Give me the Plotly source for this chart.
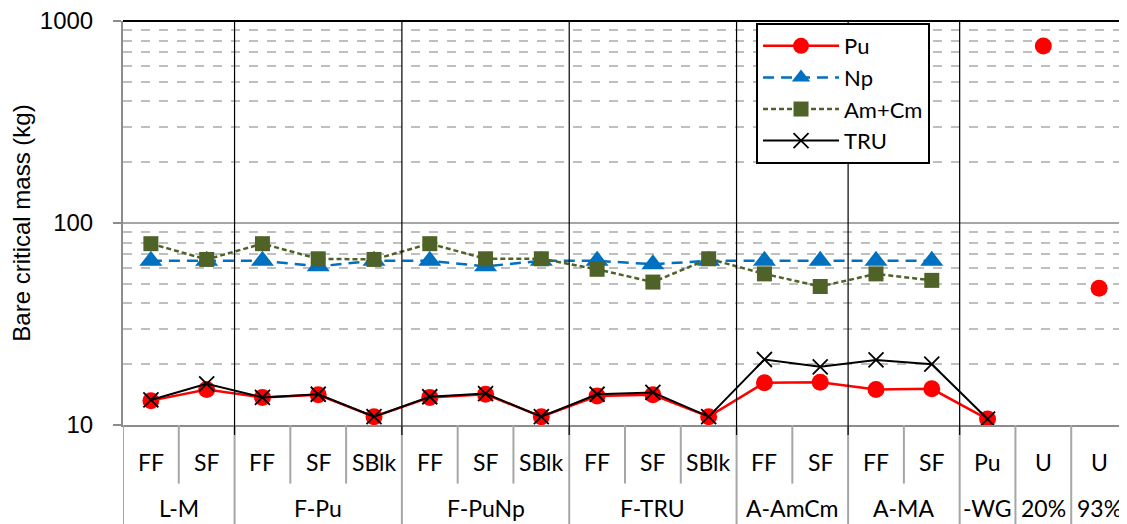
import plotly.graph_objects as go

# ---- data ----
groups = ["L-M", "L-M", "F-Pu", "F-Pu", "F-Pu", "F-PuNp", "F-PuNp", "F-PuNp",
          "F-TRU", "F-TRU", "F-TRU", "A-AmCm", "A-AmCm", "A-MA", "A-MA", "-WG", "20%", "93%"]
subcats = ["FF", "SF", "FF", "SF", "SBlk", "FF", "SF", "SBlk", "FF", "SF", "SBlk",
           "FF", "SF", "FF", "SF", "Pu", "U", "U"]

pu = [13.2, 15.0, 13.7, 14.1, 11.0, 13.7, 14.2, 11.0, 13.9, 14.1, 11.0, 16.2, 16.3, 15.0, 15.1, 10.7]
np_ = [65, 65, 65, 61, 65, 65, 61, 65, 65, 62.5, 65, 65, 65, 65, 65]
amcm = [79, 66, 79, 66.5, 66, 79, 66.5, 66.5, 59, 51, 66.5, 56, 48.5, 56, 52]
tru = [13.3, 16.0, 13.7, 14.2, 11.0, 13.8, 14.3, 11.0, 14.2, 14.5, 11.0, 21.1, 19.4, 21.0, 20.0, 10.7]
u_vals = [752, 47.5]
u_idx = [16, 17]

idx = list(range(len(subcats)))

LBL_FONT = "Lato, 'Open Sans', sans-serif"
AX_FONT = "'Liberation Sans', Arial, sans-serif"

fig = go.Figure()
fig.add_trace(go.Scatter(x=idx[:len(pu)], y=pu, name="Pu", mode="lines+markers",
                         line=dict(color="#ff0000", width=2.5),
                         marker=dict(symbol="circle", size=17, color="#ff0000")))
fig.add_trace(go.Scatter(x=idx[:len(np_)], y=np_, name="Np", mode="lines+markers",
                         line=dict(color="#0070c0", width=2.5, dash="11px,7px"),
                         marker=dict(symbol="triangle-up", size=20, color="#0070c0")))
fig.add_trace(go.Scatter(x=idx[:len(amcm)], y=amcm, name="Am+Cm", mode="lines+markers",
                         line=dict(color="#4f6228", width=2.5, dash="5px,3px"),
                         marker=dict(symbol="square", size=15, color="#4f6228")))
fig.add_trace(go.Scatter(x=idx[:len(tru)], y=tru, name="TRU", mode="lines+markers",
                         line=dict(color="#000000", width=2),
                         marker=dict(symbol="x-thin", size=15, color="#000000",
                                     line=dict(color="#000000", width=1.8))))
fig.add_trace(go.Scatter(x=u_idx, y=u_vals, name="U", mode="markers", showlegend=False,
                         marker=dict(symbol="circle", size=17, color="#ff0000")))

# ---- separators & labels ----
shapes = []
annotations = []
n = len(subcats)
runs = []
start = 0
for i in range(1, n + 1):
    if i == n or groups[i] != groups[start]:
        runs.append((start, i - 1, groups[start]))
        start = i

GRAY = "#a6a6a6"
ROW1 = -0.092
ROW2 = -0.205
SUB_BOTTOM = -0.145
BOTTOM = -0.26

shapes.append(dict(type="line", xref="x", yref="paper", x0=-0.5, x1=-0.5,
                   y0=0, y1=BOTTOM, line=dict(color=GRAY, width=2), layer="above"))
for k, (a, b, g) in enumerate(runs):
    right = b + 0.5
    if k < len(runs) - 1:
        shapes.append(dict(type="line", xref="x", yref="paper", x0=right, x1=right,
                           y0=0, y1=BOTTOM, line=dict(color=GRAY, width=2)))
        if right < 15:
            shapes.append(dict(type="line", xref="x", yref="paper", x0=right, x1=right,
                               y0=1.0, y1=-0.025, line=dict(color="#000000", width=1.2),
                               layer="above"))
    for j in range(a, b):
        shapes.append(dict(type="line", xref="x", yref="paper", x0=j + 0.5, x1=j + 0.5,
                           y0=0, y1=SUB_BOTTOM, line=dict(color=GRAY, width=2)))
    annotations.append(dict(x=(a + b) / 2, y=ROW2, xref="x", yref="paper", text=g,
                            showarrow=False, yanchor="middle",
                            font=dict(family=LBL_FONT, size=23, color="#000")))
for i, s in enumerate(subcats):
    annotations.append(dict(x=i, y=ROW1, xref="x", yref="paper", text=s,
                            showarrow=False, yanchor="middle",
                            font=dict(family=LBL_FONT, size=23, color="#000")))

shapes.append(dict(type="line", xref="paper", yref="paper", x0=0, x1=1, y0=1, y1=1,
                   line=dict(color="#000000", width=2), layer="above"))

minor_vals = [m * d for d in (10, 100) for m in range(2, 10)]

fig.update_layout(
    width=1119, height=516,
    margin=dict(l=115, r=0, t=13, b=99),
    paper_bgcolor="white", plot_bgcolor="white",
    showlegend=True,
    legend=dict(x=0.6305, y=0.995, xanchor="left", yanchor="top",
                bgcolor="white", bordercolor="#000000", borderwidth=2,
                font=dict(family=LBL_FONT, size=22, color="#000"),
                itemwidth=76, tracegroupgap=0),
    shapes=shapes,
    annotations=annotations,
    xaxis=dict(range=[-0.5, n - 0.5], showticklabels=False, showgrid=False,
               zeroline=False, showline=True, linecolor="#8c8c8c", linewidth=2,
               ticks=""),
    yaxis=dict(type="log", range=[1, 3], tickvals=[10, 100, 1000],
               ticktext=["10", "100", "1000"],
               tickfont=dict(family=AX_FONT, size=24, color="#000"),
               ticklabeloverflow="allow",
               ticks="outside", ticklen=8, tickcolor="#8c8c8c", tickwidth=2,
               ticklabelstandoff=15,
               showline=True, linecolor="#8c8c8c", linewidth=2,
               showgrid=True, gridcolor="#a6a6a6", gridwidth=2,
               zeroline=False,
               minor=dict(tickvals=minor_vals, showgrid=True, gridcolor="#bfbfbf",
                          griddash="dash", gridwidth=2, ticks=""),
               title=dict(text="Bare critical mass (kg)", standoff=10,
                          font=dict(family=AX_FONT, size=24, color="#000"))),
)

fig.write_html("out.html")
